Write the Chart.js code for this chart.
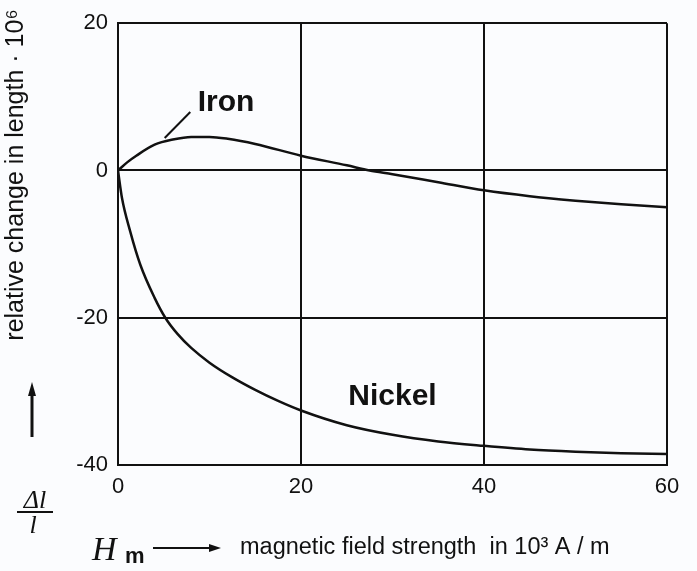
<!DOCTYPE html>
<html>
<head>
<meta charset="utf-8">
<script src="https://cdn.jsdelivr.net/npm/chart.js@4.4.1/dist/chart.umd.min.js"></script>
<style>
  html, body { margin: 0; padding: 0; background: #fbfcfe; }
  #wrap { width: 697px; height: 571px; position: relative; }
</style>
</head>
<body>
<div id="wrap"><canvas id="c" width="697" height="571"></canvas></div>
<script>
// ---- data ----
const ironX   = [0, 1, 2, 4, 6, 8, 10, 12, 15, 20, 25, 27.5, 30, 35, 40, 45, 50, 55, 60];
const ironY   = [0, 1.1, 2.0, 3.5, 4.2, 4.55, 4.55, 4.3, 3.6, 2.0, 0.7, 0, -0.5, -1.6, -2.7, -3.5, -4.1, -4.6, -5.0];
const nickelX = [0, 0.43, 1.34, 2.44, 4.0, 5.17, 6.5, 8, 10, 12.5, 15, 17.5, 20, 25, 30, 35, 40, 45, 50, 55, 60];
const nickelY = [0, -3.7, -8.3, -12.8, -17.3, -20, -22.2, -24.1, -26.1, -28.1, -29.8, -31.3, -32.6, -34.6, -35.9, -36.8, -37.4, -37.9, -38.2, -38.4, -38.5];
const xTicks = [0, 20, 40, 60];
const yTicks = [-40, -20, 0, 20];
const seriesNames = ['Iron', 'Nickel'];
const labelPos = { Iron: [11.8, 9.2], Nickel: [30, -30.7] };
const ironLeader = [[7.9, 7.95], [5.1, 4.4]];
const xTitle = 'magnetic field strength  in 10\u00B3 A / m';
const yTitle = 'relative change in length \u00B7 10\u2076';

const toPts = (xs, ys) => xs.map((x, i) => ({ x: x, y: ys[i] }));

const annot = {
  id: 'annot',
  afterDraw(chart) {
    const ctx = chart.ctx;
    const xs = chart.scales.x, ys = chart.scales.y;
    ctx.save();
    ctx.fillStyle = '#111';
    ctx.strokeStyle = '#111';
    // series labels
    ctx.font = 'bold 30px "Liberation Sans", Arial, sans-serif';
    ctx.textAlign = 'center';
    ctx.textBaseline = 'middle';
    seriesNames.forEach(n => {
      const p = labelPos[n];
      ctx.fillText(n, xs.getPixelForValue(p[0]), ys.getPixelForValue(p[1]));
    });
    // leader line for Iron
    ctx.lineWidth = 2;
    ctx.beginPath();
    ctx.moveTo(xs.getPixelForValue(ironLeader[0][0]), ys.getPixelForValue(ironLeader[0][1]));
    ctx.lineTo(xs.getPixelForValue(ironLeader[1][0]), ys.getPixelForValue(ironLeader[1][1]));
    ctx.stroke();

    // y axis title (rotated)
    ctx.save();
    ctx.translate(16, 175);
    ctx.rotate(-Math.PI / 2);
    ctx.font = '25px "Liberation Sans", Arial, sans-serif';
    ctx.textAlign = 'center';
    ctx.textBaseline = 'middle';
    ctx.fillText(yTitle, 0, 0);
    ctx.restore();

    // up arrow
    ctx.lineWidth = 3;
    ctx.beginPath();
    ctx.moveTo(32, 437);
    ctx.lineTo(32, 392);
    ctx.stroke();
    ctx.beginPath();
    ctx.moveTo(32, 382);
    ctx.lineTo(28, 396);
    ctx.lineTo(36, 396);
    ctx.closePath();
    ctx.fill();

    // Δl / l
    ctx.font = 'italic 26px "Liberation Serif", "DejaVu Serif", serif';
    ctx.textAlign = 'center';
    ctx.textBaseline = 'alphabetic';
    ctx.fillText('\u0394l', 35, 508);
    ctx.lineWidth = 2;
    ctx.beginPath();
    ctx.moveTo(17, 512);
    ctx.lineTo(53, 512);
    ctx.stroke();
    ctx.fillText('l', 33, 533);

    // H_m arrow
    ctx.textAlign = 'left';
    ctx.font = 'italic 34px "Liberation Serif", "DejaVu Serif", serif';
    ctx.fillText('H', 92, 560);
    ctx.font = 'bold 22px "Liberation Sans", Arial, sans-serif';
    ctx.fillText('m', 125, 563);
    ctx.lineWidth = 2;
    ctx.beginPath();
    ctx.moveTo(153, 548);
    ctx.lineTo(212, 548);
    ctx.stroke();
    ctx.beginPath();
    ctx.moveTo(221, 548);
    ctx.lineTo(209, 544);
    ctx.lineTo(209, 552);
    ctx.closePath();
    ctx.fill();

    // x axis title
    ctx.font = '23.5px "Liberation Sans", Arial, sans-serif';
    ctx.textAlign = 'left';
    ctx.textBaseline = 'middle';
    ctx.fillText(xTitle, 240, 548);
    ctx.restore();
  }
};

const bgPlugin = {
  id: 'bg',
  beforeDraw(chart) {
    const ctx = chart.ctx;
    ctx.save();
    ctx.fillStyle = '#fbfcfe';
    ctx.fillRect(0, 0, chart.width, chart.height);
    ctx.restore();
  }
};

new Chart(document.getElementById('c'), {
  type: 'scatter',
  data: {
    datasets: [
      { label: seriesNames[0], data: toPts(ironX, ironY), showLine: true, borderColor: '#111', borderWidth: 2.5, pointRadius: 0, cubicInterpolationMode: 'monotone', fill: false },
      { label: seriesNames[1], data: toPts(nickelX, nickelY), showLine: true, borderColor: '#111', borderWidth: 2.5, pointRadius: 0, cubicInterpolationMode: 'monotone', fill: false }
    ]
  },
  options: {
    responsive: false,
    animation: false,
    events: [],
    layout: { padding: { top: 22, right: 30, left: 0, bottom: 0 } },
    plugins: { legend: { display: false }, tooltip: { enabled: false }, title: { display: false } },
    scales: {
      x: {
        type: 'linear', min: 0, max: 60,
        afterBuildTicks: s => { s.ticks = xTicks.map(v => ({ value: v })); },
        afterFit: s => { s.height = 106; },
        grid: { color: '#111', lineWidth: 2, drawTicks: false },
        border: { color: '#111', width: 2 },
        ticks: { color: '#111', padding: 9, font: { family: '"Liberation Sans", Arial, sans-serif', size: 22 }, maxRotation: 0 }
      },
      y: {
        type: 'linear', min: -40, max: 20,
        afterBuildTicks: s => { s.ticks = yTicks.map(v => ({ value: v })); },
        afterFit: s => { s.width = 118; },
        grid: { color: '#111', lineWidth: 2, drawTicks: false },
        border: { color: '#111', width: 2 },
        ticks: { color: '#111', padding: 10, font: { family: '"Liberation Sans", Arial, sans-serif', size: 22 } }
      }
    }
  },
  plugins: [bgPlugin, annot]
});
</script>
</body>
</html>
